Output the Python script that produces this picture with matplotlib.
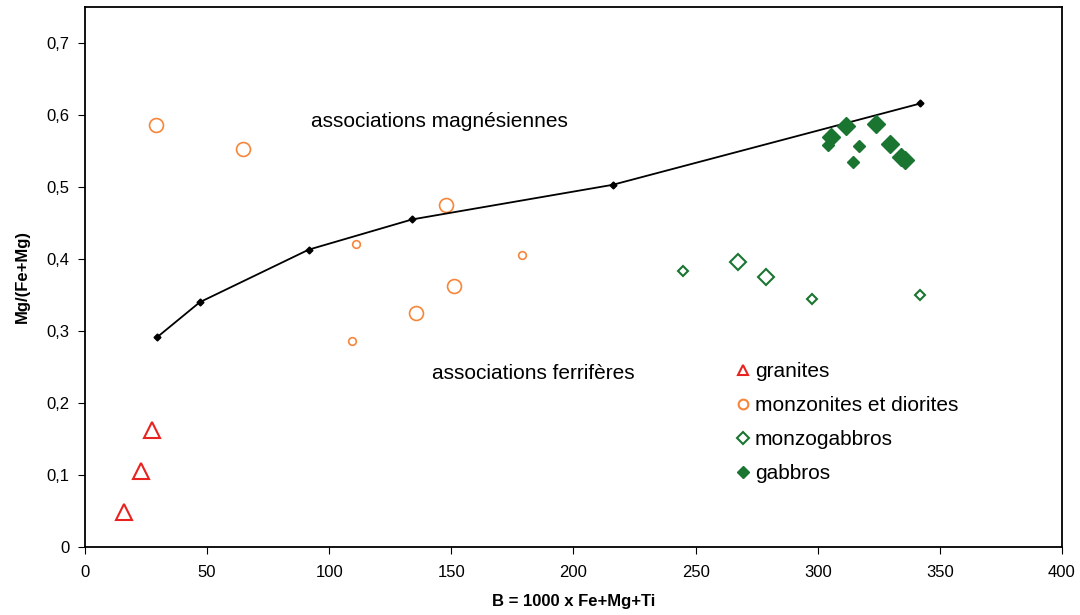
import matplotlib
matplotlib.use('Agg')
import matplotlib.pyplot as plt
from matplotlib.ticker import FuncFormatter, MultipleLocator
from matplotlib.lines import Line2D

plt.rcParams['font.family'] = ['Liberation Sans', 'DejaVu Sans']

# limit line magnesian / ferriferous
lim_x = [29.4, 47, 91.6, 134, 216, 342]
lim_y = [0.291, 0.340, 0.413, 0.455, 0.503, 0.616]

# granites
gra_x = [16, 23, 27.5]
gra_y = [0.048, 0.105, 0.162]

# monzonites et diorites (big / small markers)
mzb_x = [29, 64.5, 148, 151, 135.4]
mzb_y = [0.586, 0.553, 0.475, 0.362, 0.325]
mzs_x = [110.8, 109.5, 179]
mzs_y = [0.421, 0.286, 0.405]

# monzogabbros
mgb_x = [267.2, 278.8]
mgb_y = [0.396, 0.375]
mgs_x = [245, 297.6, 341.8]
mgs_y = [0.383, 0.345, 0.350]

# gabbros
gbb_x = [305.4, 311.4, 323.8, 329.6, 334, 335.8]
gbb_y = [0.570, 0.585, 0.587, 0.560, 0.542, 0.537]
gbs_x = [304.4, 317, 314.5]
gbs_y = [0.558, 0.557, 0.535]

red = '#e8231f'
orange = '#f5863a'
green = '#1a7530'

fig = plt.figure(figsize=(10.8, 6.15), dpi=100)
ax = fig.add_axes([0.0787, 0.1106, 0.9046, 0.878])

ax.plot(lim_x, lim_y, color='black', lw=1.3, marker='D', ms=3.5, zorder=3)

ax.plot(gra_x, gra_y, ls='none', marker='^', ms=11, mfc='none', mec=red, mew=1.5)
ax.plot(mzb_x, mzb_y, ls='none', marker='o', ms=10, mfc='none', mec=orange, mew=1.2)
ax.plot(mzs_x, mzs_y, ls='none', marker='o', ms=5.5, mfc='none', mec=orange, mew=1.2)
ax.plot(mgb_x, mgb_y, ls='none', marker='D', ms=8.5, mfc='none', mec=green, mew=1.5)
ax.plot(mgs_x, mgs_y, ls='none', marker='D', ms=5, mfc='none', mec=green, mew=1.5)
ax.plot(gbb_x, gbb_y, ls='none', marker='D', ms=9, mfc=green, mec=green, zorder=4)
ax.plot(gbs_x, gbs_y, ls='none', marker='D', ms=6, mfc=green, mec=green, zorder=4)

ax.text(92.4, 0.591, 'associations magnésiennes', fontsize=15, va='center')
ax.text(142, 0.241, 'associations ferrifères', fontsize=15, va='center')

handles = [
    Line2D([], [], ls='none', marker='^', ms=7, mfc='none', mec=red, mew=1.5),
    Line2D([], [], ls='none', marker='o', ms=7, mfc='none', mec=orange, mew=1.5),
    Line2D([], [], ls='none', marker='D', ms=6, mfc='none', mec=green, mew=1.5),
    Line2D([], [], ls='none', marker='D', ms=6, mfc=green, mec=green),
]
labels = ['granites', 'monzonites et diorites', 'monzogabbros', 'gabbros']
ax.legend(handles, labels, loc='upper left', bbox_to_anchor=(0.656, 0.361),
          frameon=False, fontsize=15, handlelength=0.6, handletextpad=0.3,
          labelspacing=0.72, borderpad=0)

ax.set_xlim(0, 400)
ax.set_ylim(0, 0.75)
ax.xaxis.set_major_locator(MultipleLocator(50))
ax.yaxis.set_major_locator(MultipleLocator(0.1))
ax.yaxis.set_major_formatter(FuncFormatter(lambda v, p: '0' if abs(v) < 1e-9 else f'{v:.1f}'.replace('.', ',')))
ax.tick_params(direction='out', length=5, labelsize=12)
ax.tick_params(axis='y', pad=6)
ax.tick_params(axis='x', pad=8)
for s in ax.spines.values():
    s.set_linewidth(1.3)

ax.set_xlabel('B = 1000 x Fe+Mg+Ti', fontsize=12, fontweight='bold', labelpad=10)
ax.set_ylabel('Mg/(Fe+Mg)', fontsize=12, fontweight='bold', labelpad=12)

fig.savefig('out.png', dpi=100)
